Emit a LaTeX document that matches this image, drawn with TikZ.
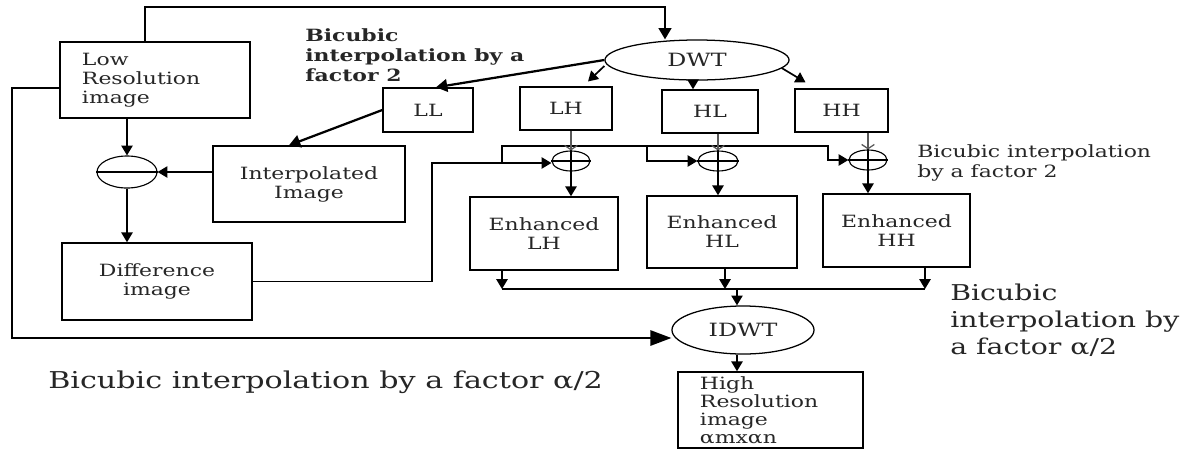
\documentclass[tikz,border=0pt]{standalone}
\usepackage{fontspec}
\setmainfont{DejaVu Serif}[FakeStretch=1.3]
\usetikzlibrary{shapes.geometric,arrows.meta}
\newcommand{\boxfont}{\fontsize{12}{13.5}\selectfont}
\newcommand{\ovalfont}{\fontsize{13}{15}\selectfont}
\newcommand{\notefont}{\fontsize{12}{14.2}\selectfont}
\newcommand{\bignotefont}{\fontsize{15.5}{19.2}\selectfont}
\tikzset{
  blk/.style={draw, line width=1pt, inner sep=0pt, align=center, font=\boxfont, text=black!85},
  oval/.style={draw, ellipse, line width=0.9pt, inner sep=0pt, font=\ovalfont, text=black!85},
  junc/.style={draw, ellipse, line width=0.8pt, inner sep=0pt},
  conn/.style={line width=1.2pt},
  arr/.style={conn, -{Triangle[length=7pt,width=8pt]}},
  bigarr/.style={line width=1.6pt, -{Triangle[length=8pt,width=9pt]}},
  thinarr/.style={line width=0.9pt, gray!70!black, -{Straight Barb[length=3pt,width=9pt]}},
  note/.style={align=left, inner sep=0pt, anchor=west, font=\notefont, text=black!85}
}
\begin{document}
\begin{tikzpicture}[x=0.025cm, y=-0.025cm]
\useasboundingbox (0,0) rectangle (1192,450);

\node[blk, minimum width=4.75cm, minimum height=1.9cm, text width=3.65cm, align=left] (lowres) at (155,80) {Low\\Resolution\\image};
\node[oval, minimum width=4.6cm, minimum height=1cm] (dwt) at (697,60) {DWT};
\node[blk, minimum width=2.25cm, minimum height=1.1cm] (ll) at (428,110) {LL};
\node[blk, minimum width=2.3cm, minimum height=1.075cm] (lh) at (566,108.5) {LH};
\node[blk, minimum width=2.4cm, minimum height=1.075cm] (hl) at (710,111.5) {HL};
\node[blk, minimum width=2.325cm, minimum height=1.075cm] (hh) at (841.5,110.5) {HH};
\node[blk, minimum width=4.8cm, minimum height=1.9cm] (interp) at (309,184) {Interpolated\\Image};
\node[blk, minimum width=4.75cm, minimum height=1.925cm] (diff) at (157,281.5) {Difference\\image};
\node[blk, minimum width=3.7cm, minimum height=1.825cm] (elh) at (544,233.5) {Enhanced\\LH};
\node[blk, minimum width=3.75cm, minimum height=1.8cm] (ehl) at (722,232) {Enhanced\\HL};
\node[blk, minimum width=3.675cm, minimum height=1.825cm] (ehh) at (896.5,230.5) {Enhanced\\HH};
\node[oval, minimum width=3.55cm, minimum height=1.2cm] (idwt) at (743,330) {IDWT};
\node[blk, minimum width=4.625cm, minimum height=1.9cm, text width=3.525cm, align=left, font=\fontsize{12}{12.8}\selectfont] (hires) at (770.5,410) {High\\Resolution\\image\\αmxαn};

\node[junc, minimum width=1.5cm, minimum height=0.8cm] (sub) at (127,172) {};
\node[junc, minimum width=0.95cm, minimum height=0.5cm] (addlh) at (571,161) {};
\node[junc, minimum width=1cm, minimum height=0.5cm] (addhl) at (718,161) {};
\node[junc, minimum width=0.95cm, minimum height=0.5cm] (addhh) at (868,160) {};
\draw[line width=0.8pt] (sub.west) -- (sub.east);
\foreach \a in {addlh,addhl,addhh}
  \draw[line width=0.8pt] (\a.north) -- (\a.south) (\a.west) -- (\a.east);

\node[note, anchor=north west, font=\bfseries\notefont] (ttop) at (305,28) {Bicubic\\interpolation by a\\factor 2};
\node[note] (tright) at (917,163) {Bicubic interpolation\\by a factor 2};
\node[note, font=\bignotefont] (tidwt) at (950,320) {Bicubic\\interpolation by\\a factor α/2};
\node[note, font=\fontsize{16.5}{19.2}\selectfont] (tbottom) at (48,382) {Bicubic interpolation by a factor α/2};

\coordinate (topbend) at (665,7);
\coordinate (fb) at (12,338);
\coordinate (d1) at (432,163);
\coordinate (j1) at (502,163);
\coordinate (j2) at (502,146);
\coordinate (hlb) at (647,161);
\coordinate (hhb) at (828,160);
\coordinate (ob1) at (502,289);
\coordinate (ob2) at (725,289);
\coordinate (ob3) at (925,289);
\coordinate (obm) at (737,289);

\draw[bigarr] ([xshift=-0.25cm]lowres.north) |- (topbend) -- (topbend |- dwt.north);
\draw[bigarr] (dwt.west) -- ([xshift=0.2cm]ll.north);
\draw[arr] ([yshift=-0.15cm]dwt.west) -- ([xshift=0.55cm,yshift=0.12cm]lh.north);
\draw[arr] ([xshift=-0.1cm]dwt.south) -- ([xshift=-0.1cm]dwt.south |- hl.north);
\draw[arr] ([xshift=-0.2cm,yshift=-0.2cm]dwt.east) -- ([xshift=-0.9cm,yshift=0.15cm]hh.north);
\draw[bigarr] (ll.west) -- ([xshift=-0.5cm]interp.north);

\draw[arr] (sub.north |- lowres.south) -- (sub.north);
\draw[arr] (interp.west |- sub.east) -- (sub.east);
\draw[arr] (sub.south) -- (sub.south |- diff.north);

\draw[arr] (diff.east) -| (d1) -- (addlh.west |- d1);
\draw[arr] (j1) -- (j2) -| (hlb) -- (addhl.west);
\draw[arr] (j2) -| (hhb) -- (addhh.west);

\draw[thinarr] (addlh.north |- lh.south) -- (addlh.north);
\draw[thinarr] (addhl.north |- hl.south) -- (addhl.north);
\draw[thinarr] (addhh.north |- hh.south) -- (addhh.north);
\draw[arr] (addlh.south) -- (addlh.south |- elh.north);
\draw[arr] (addhl.south) -- (addhl.south |- ehl.north);
\draw[arr] (addhh.south) -- (addhh.south |- ehh.north);

\draw[arr] (elh.south -| ob1) -- (ob1);
\draw[arr] (ehl.south -| ob2) -- (ob2);
\draw[arr] (ehh.south -| ob3) -- (ob3);
\draw[conn] (ob1) -- (ob3);
\draw[arr] (obm) -- (obm |- idwt.north);

\draw[conn, -{Triangle[length=15pt,width=11pt]}] ([yshift=-0.2cm]lowres.west) -| (fb) -- (fb -| idwt.west);
\draw[arr] ([xshift=-0.15cm]idwt.south) -- ([xshift=-0.15cm]idwt.south |- hires.north);
\end{tikzpicture}
\end{document}
